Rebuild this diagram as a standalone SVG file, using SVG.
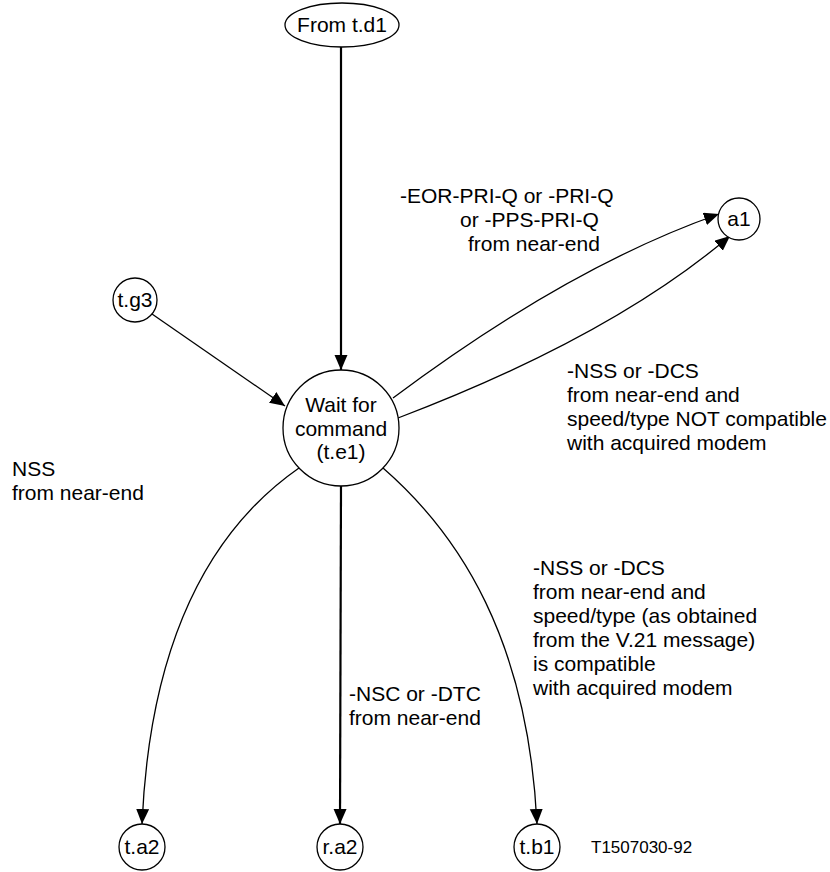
<svg xmlns="http://www.w3.org/2000/svg" width="830" height="872" viewBox="0 0 830 872">
<style>
  .node { fill: #fff; stroke: #000; stroke-width: 1.3; }
  .t { font-family: "Liberation Sans", Arial, sans-serif; font-size: 21px; fill: #000; }
  .c { text-anchor: middle; }
  .thin { fill: none; stroke: #000; stroke-width: 1.3; marker-end: url(#ah); }
  .thick { fill: none; stroke: #000; stroke-width: 2.2; marker-end: url(#ah); }
</style>
<defs>
  <marker id="ah" markerUnits="userSpaceOnUse" markerWidth="16" markerHeight="14" refX="15" refY="6.5" orient="auto">
    <path d="M0,0 L15,6.5 L0,13 z" fill="#000"/>
  </marker>
</defs>
<rect width="830" height="872" fill="#fff"/>

<g id="connectors">
  <path class="thick" d="M341,47 L341,370"/>
  <path class="thin" d="M152,314 L285,406"/>
  <path class="thin" d="M393,398 Q568,267 719,214"/>
  <path class="thin" d="M398,418 Q611,337 730,236"/>
  <path class="thin" d="M299,468 C210,530 150,640 142,824"/>
  <path class="thick" d="M341,486 L340,824"/>
  <path class="thin" d="M383,468 C460,535 528,640 537,824"/>
</g>

<g id="from_td1">
  <ellipse class="node" cx="342" cy="25" rx="57" ry="22"/>
  <text class="t c" x="342" y="32">From t.d1</text>
</g>
<g id="wait_te1">
  <circle class="node" cx="341" cy="428" r="58"/>
  <text class="t c" x="341" y="412">Wait for</text>
  <text class="t c" x="341" y="435.5">command</text>
  <text class="t c" x="341" y="459">(t.e1)</text>
</g>
<g id="tg3">
  <circle class="node" cx="135" cy="300" r="22"/>
  <text class="t c" x="135" y="307">t.g3</text>
</g>
<g id="a1">
  <circle class="node" cx="739" cy="219" r="21"/>
  <text class="t c" x="739" y="226">a1</text>
</g>
<g id="ta2">
  <circle class="node" cx="142" cy="847" r="23"/>
  <text class="t c" x="142" y="854">t.a2</text>
</g>
<g id="ra2">
  <circle class="node" cx="340" cy="847" r="23"/>
  <text class="t c" x="340" y="854">r.a2</text>
</g>
<g id="tb1">
  <circle class="node" cx="537" cy="847" r="23"/>
  <text class="t c" x="537" y="854">t.b1</text>
</g>

<g id="labels">
  <text class="t" x="400" y="203">-EOR-PRI-Q or -PRI-Q</text>
  <text class="t" x="460" y="227">or -PPS-PRI-Q</text>
  <text class="t" x="468" y="251">from near-end</text>

  <text class="t" x="567" y="378">-NSS or -DCS</text>
  <text class="t" x="567" y="402">from near-end and</text>
  <text class="t" x="567" y="426">speed/type NOT compatible</text>
  <text class="t" x="567" y="450">with acquired modem</text>

  <text class="t" x="12" y="476">NSS</text>
  <text class="t" x="12" y="500">from near-end</text>

  <text class="t" x="349" y="701">-NSC or -DTC</text>
  <text class="t" x="349" y="725">from near-end</text>

  <text class="t" x="533" y="575">-NSS or -DCS</text>
  <text class="t" x="533" y="599">from near-end and</text>
  <text class="t" x="533" y="623">speed/type (as obtained</text>
  <text class="t" x="533" y="647">from the V.21 message)</text>
  <text class="t" x="533" y="671">is compatible</text>
  <text class="t" x="533" y="695">with acquired modem</text>

  <text class="t" x="591" y="853" style="font-size:17px">T1507030-92</text>
</g>
</svg>
